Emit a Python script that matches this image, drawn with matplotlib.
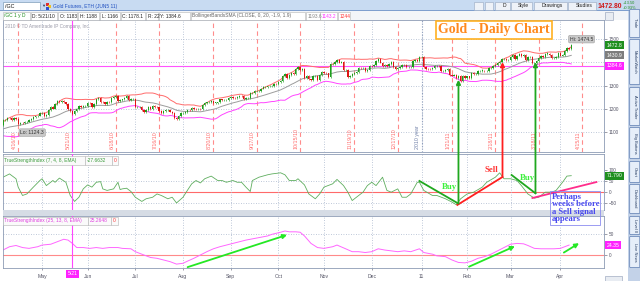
import numpy as np
import pandas as pd
import matplotlib
matplotlib.use('Agg')
import matplotlib.pyplot as plt
from matplotlib.patches import Rectangle, FancyBboxPatch, ConnectionPatch
import matplotlib.transforms as mtrans

plt.rcParams['font.family'] = ['Liberation Sans', 'DejaVu Sans']

W, H = 640, 281

# daily closes, one block per group of weeks (Mon..Fri), first bar = 2010-03-08
mar_2010 = [1122, 1121, 1107, 1108, 1102, 1105, 1122, 1126, 1124, 1108,
            1102, 1098, 1087, 1089, 1106, 1106, 1110, 1113, 1126, 1126]
apr_2010 = [1134, 1132, 1150, 1153, 1160, 1159, 1152, 1160, 1157, 1136,
            1139, 1138, 1142, 1145, 1153, 1154, 1165, 1167, 1171, 1180]
may_2010 = [1183, 1168, 1175, 1195, 1208, 1201, 1220, 1232, 1228, 1233,
            1227, 1222, 1200, 1189, 1178, 1191, 1197, 1211, 1206, 1212,
            1213, 1224, 1223, 1206, 1219]
jun_2010 = [1240, 1245, 1231, 1227, 1222, 1230, 1228, 1245, 1250, 1256,
            1233, 1236, 1240, 1246, 1256, 1238, 1243, 1244, 1208, 1208]
jul_2010 = [1208, 1195, 1186, 1194, 1209, 1199, 1213, 1208, 1207, 1189,
            1181, 1191, 1193, 1195, 1188, 1183, 1162, 1157, 1168, 1180]
aug_2010 = [1181, 1185, 1196, 1193, 1205, 1200, 1197, 1199, 1197, 1215,
            1225, 1227, 1230, 1235, 1226, 1226, 1227, 1240, 1237, 1237,
            1239, 1247, 1251, 1247, 1246]
sep_2010 = [1250, 1256, 1255, 1243, 1246, 1247, 1268, 1269, 1275, 1277,
            1277, 1287, 1292, 1293, 1296, 1297, 1299, 1308, 1307, 1317]
oct_2010 = [1319, 1340, 1349, 1333, 1346, 1355, 1351, 1372, 1381, 1368,
            1370, 1331, 1343, 1326, 1325, 1340, 1340, 1325, 1344, 1358]
nov_2010 = [1354, 1352, 1337, 1392, 1394, 1402, 1409, 1399, 1403, 1367,
            1368, 1338, 1339, 1351, 1352, 1358, 1377, 1374, 1374, 1363,
            1367, 1386, 1384, 1389, 1406]
dec_2010 = [1415, 1399, 1383, 1389, 1384, 1394, 1400, 1381, 1369, 1377,
            1378, 1388, 1387, 1378, 1379, 1381, 1405, 1410, 1405, 1421]
jan_2011 = [1422, 1378, 1373, 1371, 1369, 1376, 1384, 1386, 1385, 1362,
            1364, 1368, 1371, 1346, 1343, 1345, 1334, 1342, 1318, 1342,
            1333, 1339, 1333, 1353, 1348]
feb_2011 = [1350, 1362, 1364, 1364, 1361, 1361, 1374, 1375, 1385, 1388,
            1396, 1401, 1414, 1416, 1409, 1409, 1424, 1431, 1416, 1429]
mar_2011 = [1434, 1428, 1433, 1411, 1421, 1422, 1396, 1398, 1404, 1419,
            1427, 1424, 1437, 1437, 1430, 1417, 1420, 1424, 1439, 1429,
            1433, 1448, 1460, 1459, 1474]

# TrueStrengthIndex readings (bar number, value)
fast_bar = [22, 25, 28, 29, 31, 33, 36, 39, 40, 42, 45, 46, 48, 51, 52, 53, 55, 57, 59, 61,
            63, 65, 67, 68, 70, 73, 75, 76, 77, 79, 81, 83, 86, 88, 91, 93, 95, 98, 100, 102,
            105, 107, 109, 111, 113, 115, 118, 121, 123, 125, 128, 130, 132, 134, 136, 137, 140, 144, 146, 150,
            152, 154, 157, 158, 161, 163, 166, 168, 170, 174, 176, 179, 181, 183, 186, 188, 190, 192, 194, 197,
            199, 201, 204, 206, 208, 210, 213, 214, 216, 220, 222, 226, 229, 231, 233, 236, 239, 243, 245, 249,
            251, 253, 256, 259, 261, 264, 267, 269, 272, 275, 277, 280, 282, 284]
fast_val = [65, 80, 58, 20, -18, -11, 20, 50, 58, 27, 50, 42, 61, 42, 12, -18, -45, -26, 12, 30,
            20, 42, 45, 12, 5, 12, 42, 9, 12, 15, 0, -26, -45, -33, -26, -11, -18, -33, -26, -52,
            -26, 5, 35, 50, 39, 58, 70, 50, 50, 42, 50, 42, 42, 20, 0, 50, 65, 76, 80, 85,
            76, 50, 50, 58, 30, -11, -33, -11, 20, 35, 55, 27, -3, -41, -18, -3, 27, 42, 27, 65,
            5, -3, 12, -26, -26, -11, 42, 42, 5, -18, -18, -33, -48, -60, -33, -11, -3, 20, 42, 65,
            85, 58, 58, 50, 27, -11, -30, -26, -3, -3, 5, 42, 70, 72]
slow_bar = [22, 25, 28, 31, 34, 38, 40, 44, 47, 50, 52, 54, 56, 59, 62, 65, 68, 71, 75, 77,
            81, 83, 87, 90, 93, 96, 99, 102, 105, 107, 110, 113, 116, 119, 122, 125, 128, 131, 134, 137,
            140, 144, 146, 150, 152, 154, 157, 159, 161, 164, 167, 170, 174, 176, 180, 183, 186, 189, 192, 195,
            198, 201, 204, 207, 210, 214, 216, 220, 222, 226, 229, 232, 235, 238, 241, 244, 247, 250, 253, 256,
            259, 262, 264, 267, 270, 273, 276, 279, 281, 283]
slow_val = [12, 20, 23, 18, 16, 20, 24, 26, 32, 38, 36, 28, 18, 18, 16, 18, 16, 18, 18, 16,
            15, 8, 0, -6, -8, -12, -16, -22, -20, -15, -8, 0, 8, 15, 20, 24, 28, 32, 36, 39,
            42, 46, 50, 55, 58, 56, 56, 55, 46, 28, 18, 16, 20, 24, 15, 8, 8, 6, 8, 15,
            12, 10, 8, 10, 8, 15, 6, 2, -2, -4, -12, -18, -19, -15, -8, -4, 2, 10, 18, 26,
            28, 27, 23, 16, 15, 15, 15, 16, 20, 24]

expiry_days = ['2010-04-16', '2010-06-18', '2010-07-16', '2010-08-20', '2010-09-17',
               '2010-10-15', '2010-11-19', '2010-12-17', '2011-01-21', '2011-02-18',
               '2011-03-18', '2011-04-15']
expiry_labels = ['4/16/10', '6/18/10', '7/16/10', '8/20/10', '9/17/10', '10/15/10',
                 '11/19/10', '12/17/10', '1/21/11', '2/18/11', '3/18/11', '4/15/11']
price_levels = [1500, 1400, 1300, 1200, 1100]
price_ticks = [1500, 1300, 1200, 1100]   # 1400 sits under the 1384.6 tag
year_close = 1384.6

closes = np.array(mar_2010 + apr_2010 + may_2010 + jun_2010 + jul_2010 + aug_2010 + sep_2010
                  + oct_2010 + nov_2010 + dec_2010 + jan_2011 + feb_2011 + mar_2011, dtype=float)
bars = np.arange(len(closes))
dates = pd.bdate_range('2010-03-08', periods=len(closes) + 20)


def day(s):
    return dates.get_loc(pd.Timestamp(s))


cs = pd.Series(closes)
opens = cs.shift(1).fillna(cs.iloc[0]).values
sma = cs.rolling(20).mean()
sd = cs.rolling(20).std(ddof=0)
upper = sma + 1.9 * sd
lower = sma - 1.9 * sd

fig = plt.figure(figsize=(6.4, 2.81), dpi=100)
fig.patch.set_facecolor('white')


def fb(x0, y0, x1, y1):
    return [x0 / W, 1 - y1 / H, (x1 - x0) / W, (y1 - y0) / H]


def rect(x0, y0, x1, y1, fc, ec='none', lw=0.5, z=1):
    fig.add_artist(Rectangle((x0 / W, 1 - y1 / H), (x1 - x0) / W, (y1 - y0) / H,
                             transform=fig.transFigure, fc=fc, ec=ec, lw=lw, zorder=z))


def ftext(x, y, s, **kw):
    kw.setdefault('va', 'center')
    kw.setdefault('fontsize', 3.7)
    fig.text(x / W, 1 - y / H, s, **kw)


ax_p = fig.add_axes(fb(3, 20, 604, 152))
ax_f = fig.add_axes(fb(3, 154, 604, 210), sharex=ax_p)
ax_s = fig.add_axes(fb(3, 216, 604, 268), sharex=ax_p)

# month ticks
mticks, mlabels = [], []
for i in range(1, len(dates)):
    if dates[i].month != dates[i - 1].month:
        mticks.append(i)
        mlabels.append('11' if dates[i].month == 1 else dates[i].strftime('%b'))

grid_c = '#a9b6cc'
for ax in (ax_p, ax_f, ax_s):
    ax.set_facecolor('white')
    for sp in ax.spines.values():
        sp.set_color('#8d9bb4')
        sp.set_linewidth(0.6)
    ax.yaxis.tick_right()
    ax.tick_params(axis='y', labelsize=3.4, colors='#555566', length=2, width=0.4, pad=1.5)
    ax.tick_params(axis='x', length=0, labelbottom=False)
    ax.set_xticks(mticks)
    ax.grid(axis='x', ls=(0, (1, 2)), color=grid_c, lw=0.6)
    ax.axvline(day('2010-05-21'), color='#ff45ff', lw=0.8, zorder=3)

ax_p.set_xlim(22.0, 299.1)

# price pane
ax_p.set_ylim(1014, 1582)
ax_p.set_yticks(price_ticks)
for v in price_levels:
    ax_p.axhline(v, ls=(0, (1, 2)), color=grid_c, lw=0.6, zorder=0)
for d, lab in zip(expiry_days, expiry_labels):
    i = day(d)
    ax_p.axvline(i, color='#ff8c8c', lw=0.8, ls=(0, (4, 3)), zorder=0.5)
    ax_p.text(i - 0.7, 1028, lab, rotation=90, fontsize=3.8, color='#ff6a6a', ha='right', va='bottom')
i_year = day('2011-01-03')
ax_p.axvline(i_year, color='#8a98b8', lw=0.8, ls=(0, (1, 1.5)), zorder=0.5)
ax_p.text(i_year - 0.7, 1028, '2010 year', rotation=90, fontsize=3.8, color='#7080a8', ha='right', va='bottom')
ax_p.text(day('2010-05-21') - 0.7, 1028, '5/21/10', rotation=90, fontsize=3.8, color='#ff6a6a', ha='right', va='bottom')

ax_p.axhline(year_close, color='#ff55ff', lw=0.8, zorder=1)
ax_p.plot(bars, upper, color='#ff6b6b', lw=0.7, zorder=2)
ax_p.plot(bars, sma, color='#9c9c9c', lw=0.7, zorder=2)
ax_p.plot(bars, lower, color='#ff45ff', lw=0.7, zorder=2)

up = closes >= opens
col = np.where(up, '#1e9e1e', '#e01414')
lo = np.minimum(opens, closes)
hgt = np.maximum(np.abs(closes - opens), 1.2)
ax_p.vlines(bars, lo - 4, lo + hgt + 4, colors=col, lw=0.45, zorder=3)
ax_p.bar(bars, hgt, bottom=lo, width=0.62, color=col, lw=0, zorder=3)

ax_p.annotate('Lo: 1124.3', xy=(day('2010-04-19'), 1124.3), xytext=(0, -4.5), textcoords='offset points',
              fontsize=3.7, color='#333333', ha='left', va='center',
              bbox=dict(boxstyle='round,pad=0.25', fc='#c9c9c9', ec='#a0a0a0', lw=0.4))
ax_p.annotate('Hi: 1474.5', xy=(bars[-1], 1474.5), xytext=(-1, 4.2), textcoords='offset points',
              fontsize=3.7, color='#333333', ha='left', va='center',
              bbox=dict(boxstyle='round,pad=0.25', fc='#c9c9c9', ec='#a0a0a0', lw=0.4), annotation_clip=False)


def tag(ax, y, s, fc, tc='white'):
    tr = mtrans.blended_transform_factory(ax.transAxes, ax.transData)
    ax.text(1.004, y, s, transform=tr, fontsize=3.7, color=tc, ha='left', va='center', zorder=6,
            bbox=dict(boxstyle='square,pad=0.3', fc=fc, ec='none'), clip_on=False)


tag(ax_p, closes[-1] - 1.2, '1472.8', '#1f8f1f')
tag(ax_p, sma.iloc[-1], '1430.9', '#7d7d7d')
tag(ax_p, year_close, '1384.6', '#ff22ff')

# fast TSI pane
ax_f.set_ylim(-84, 170.5)
ax_f.set_yticks([100, 50, 0, -50])
for v in (50, -50):
    ax_f.axhline(v, ls=(0, (1, 2)), color=grid_c, lw=0.6, zorder=0)
ax_f.axhline(0, color='#ff6a6a', lw=0.8, zorder=1)
ax_f.plot(fast_bar, fast_val, color='#5fae5f', lw=0.6, zorder=2)
tag(ax_f, fast_val[-1], '71.790', '#1f8f1f')

# slow TSI pane
ax_s.set_ylim(-31.4, 94.2)
ax_s.set_yticks([50, 0])
ax_s.axhline(50, ls=(0, (1, 2)), color=grid_c, lw=0.6, zorder=0)
ax_s.axhline(0, color='#ff8a8a', lw=0.8, zorder=1)
ax_s.plot(slow_bar, slow_val, color='#ff66ff', lw=0.7, zorder=2)
tag(ax_s, slow_val[-1], '24.35', '#ff22ff')
ax_s.tick_params(axis='x', labelbottom=True, labelsize=3.7, colors='#555566', length=1.5, width=0.4, pad=2.5)
ax_s.set_xticklabels(mlabels)
trx = mtrans.blended_transform_factory(ax_s.transData, ax_s.transAxes)
ax_s.text(day('2010-05-21'), -0.115, '5/21', transform=trx, fontsize=3.7, color='white', ha='center',
          va='center', bbox=dict(boxstyle='square,pad=0.25', fc='#ff22ff', ec='none'), clip_on=False, zorder=6)

# hand-drawn annotations
ax_f.plot([214, 232], [48, -55], color='#1fa81f', lw=1.3, clip_on=False, zorder=5)
ax_f.plot([231.5, 252.3], [-61, 66], color='#ff1f1f', lw=1.3, clip_on=False, zorder=5)
ax_f.plot([256.5, 267.5], [75, -8], color='#1fa81f', lw=1.3, clip_on=False, zorder=5)
ax_f.plot([266.1, 295.6], [-29.5, 43], color='#ff2d8c', lw=1.3, clip_on=False, zorder=5)
ax_f.text(228, 20, 'Buy', color='#3cf03c', fontsize=6.3, family='Liberation Serif', weight='bold',
          ha='center', va='center', zorder=6)
ax_f.text(247.2, 98, 'Sell', color='#ff3434', fontsize=6.3, family='Liberation Serif', weight='bold',
          ha='center', va='center', zorder=6)
ax_f.text(263.8, 61, 'Buy', color='#3cf03c', fontsize=6.3, family='Liberation Serif', weight='bold',
          ha='center', va='center', zorder=6)
for xb, yb, yt, c in [(232, -55, 1325, '#1fa81f'), (252.3, 66, 1401, '#ff1f1f'), (267.5, -8, 1401, '#1fa81f')]:
    con = ConnectionPatch(xyA=(xb, yb), coordsA=ax_f.transData, xyB=(xb, yt), coordsB=ax_p.transData,
                          arrowstyle='-|>', color=c, lw=1.3, mutation_scale=6, zorder=7)
    fig.add_artist(con)
for (x0, y0), (x1, y1) in [((105.9, -31.4), (154.2, 50.7)), ((235.7, -31), (259.2, 24)),
                           ((279.5, 2.4), (288.7, 32))]:
    ax_s.annotate('', xy=(x1, y1), xytext=(x0, y0), annotation_clip=False,
                  arrowprops=dict(arrowstyle='-|>', color='#24e824', lw=1.3, mutation_scale=6), zorder=6)

# ---- window chrome ----
rect(0, 0, 640, 11, '#c8dbf2')
rect(0, 10.5, 640, 11.2, '#7f9fce', z=2)
rect(3, 2, 40, 10, 'white', '#7f9db9')
ftext(5, 6, '/GC', fontsize=3.9, color='#111111')
ftext(43, 6, '\u25bc', fontsize=3, color='#334466', ha='center')
rect(46, 3, 49, 6, '#e03030')
rect(48, 5, 51, 8, '#f0c020')
rect(46, 6.5, 49, 9.5, '#3050d0')
ftext(53, 6.2, 'Gold Futures, ETH (JUN5 11)', fontsize=3.5, color='#2050c0')
for x0, x1, s in [(474, 483, ''), (485, 493, ''), (495, 510, 'D'), (511, 532, 'Style'),
                  (534, 567, 'Drawings'), (568, 596, 'Studies')]:
    rect(x0, 1.5, x1, 10, '#eef2f8', '#98a8c0', lw=0.4, z=2)
    if s:
        ftext((x0 + x1) / 2 + 2, 5.9, s, fontsize=3.6, color='#222222', ha='center', zorder=3)
ftext(598, 6, '1472.80', fontsize=4.9, weight='bold', color='#d01818')
ftext(623, 3.2, '+13.50', fontsize=2.9, color='#1f8f1f')
ftext(623, 8.0, '+0.93%', fontsize=2.9, color='#1f8f1f')

rect(0, 11.2, 628, 20, '#f3f5f8')
hdr = [(3, 30, '/GC 1 y D', '#1f8f1f'), (31, 57, 'D: 5/21/10', '#222222'), (58, 77, 'O: 1183', '#222222'),
       (78, 99, 'H: 1188', '#222222'), (100, 120, 'L: 1166', '#222222'), (121, 145, 'C: 1178.1', '#222222'),
       (146, 158, 'R: 22', '#222222'), (159, 190, 'Y: 1384.6', '#222222'),
       (191, 305, 'BollingerBandsSMA (CLOSE, 0, 20, -1.9, 1.9)', '#666666'),
       (306, 320, '1193.6', '#888888'), (320, 337, '1143.2', '#ff33ff'), (338, 350, '1244', '#ff3333')]
for x0, x1, s, c in hdr:
    rect(x0, 12.3, x1, 19.5, 'white', '#b4b4b4', lw=0.4, z=2)
    ftext(x0 + 1.5, 16, s, fontsize=3.5, color=c, zorder=3)
rect(605, 12.5, 613, 19.5, '#e8ecf2', '#8d9bb4', lw=0.4, z=2)
ftext(5, 26.5, '2010 \u00a9 TD Ameritrade IP Company, Inc.', fontsize=3.4, color='#9a9aa8', zorder=3)

ftext(494, 29.5, 'Gold - Daily Chart', fontsize=10, family='Liberation Serif', weight='bold',
      color='#ff8a1e', ha='center', zorder=4,
      bbox=dict(boxstyle='square,pad=0.18', fc='white', ec='#ffb020', lw=1.2))

# study headers
rect(3, 210, 604, 216, '#d6dce5', z=0.5)
for x0, x1, s, c, y0, y1 in [(3, 85, 'TrueStrengthIndex (7, 4, 8, EMA)', '#3c9c3c', 156, 164.5),
                             (85, 112, '-27.6632', '#3c9c3c', 156, 164.5), (112, 118, '0', '#ff3333', 156, 164.5),
                             (3, 88, 'TrueStrengthIndex (25, 13, 8, EMA)', '#e040e0', 216.5, 225),
                             (88, 111, '25.2648', '#e040e0', 216.5, 225), (111, 118, '0', '#ff3333', 216.5, 225)]:
    rect(x0, y0, x1, y1, '#fafafa', '#b4b4b4', lw=0.4, z=2)
    ftext(x0 + 1.5, (y0 + y1) / 2, s, fontsize=3.5, color=c, zorder=3)

# note box
rect(550, 191, 600, 225, 'none', '#8c8cf0', lw=0.6, z=8)
ftext(552, 208, 'Perhaps\nweeks before\na Sell signal\nappears', fontsize=6.2, family='Liberation Serif',
      weight='bold', color='#4848ee', ha='left', linespacing=0.92, zorder=9)

# right tab strip
rect(628, 0, 640, 281, '#c3d2e8')
tabs = [(10, 37, 'Trade'), (40, 84, 'MarketWatch'), (88, 125, 'Active Trader'), (128, 158, 'Big Buttons'),
        (162, 182, 'Chart'), (185, 213, 'Dashboard'), (217, 234, 'Level II'), (237, 267, 'Live News')]
for y0, y1, s in tabs:
    fig.add_artist(FancyBboxPatch((631 / W, 1 - y1 / H), 7.5 / W, (y1 - y0) / H, boxstyle='round,pad=0.002',
                                  transform=fig.transFigure, fc='#e6eef9', ec='#5a7bb0', lw=0.5, zorder=2))
    ftext(634.8, (y0 + y1) / 2, s, fontsize=2.9, color='#23395f', rotation=270, ha='center', zorder=3)
rect(605, 276, 622, 281, '#e8ecf2', '#8d9bb4', lw=0.4)

fig.savefig('out.png', dpi=100, facecolor=fig.get_facecolor())
